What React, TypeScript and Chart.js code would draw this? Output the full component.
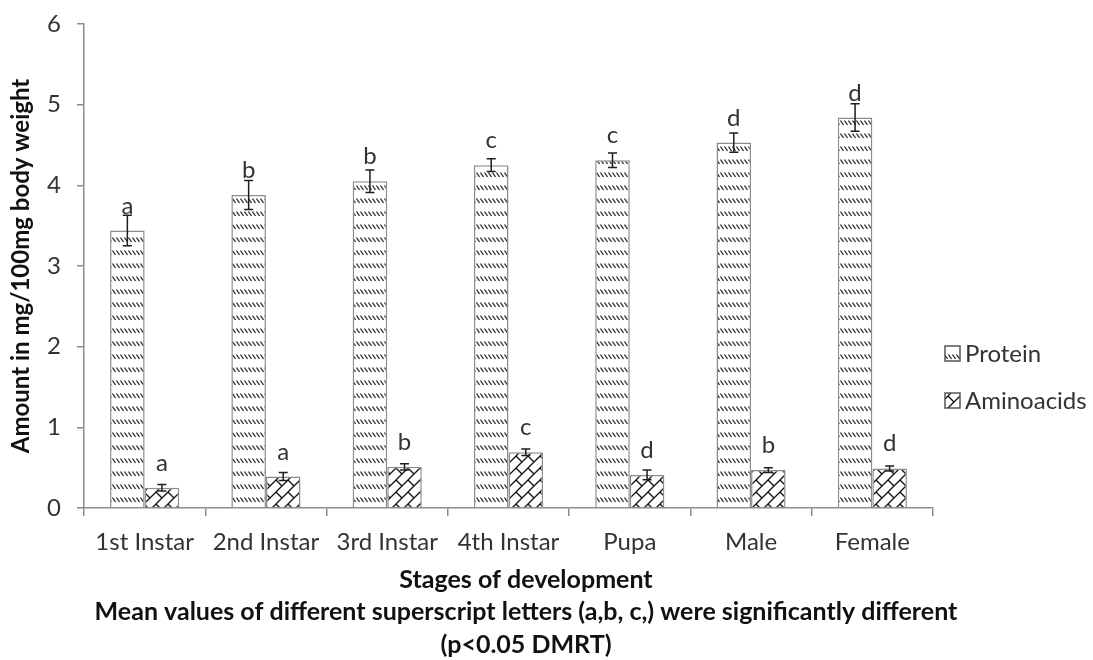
import React, { useEffect, useRef } from "react";
import { Chart, registerables } from "chart.js";

Chart.register(...registerables);

const categories = ["1st Instar", "2nd Instar", "3rd Instar", "4th Instar", "Pupa", "Male", "Female"];
const proteinValues = [3.44, 3.88, 4.05, 4.25, 4.31, 4.53, 4.84];
const proteinErrors = [0.19, 0.18, 0.14, 0.08, 0.09, 0.12, 0.17];
const proteinLetters = ["a", "b", "b", "c", "c", "d", "d"];
const aminoValues = [0.25, 0.39, 0.51, 0.69, 0.41, 0.47, 0.49];
const aminoErrors = [0.04, 0.05, 0.04, 0.04, 0.06, 0.03, 0.03];
const aminoLetters = ["a", "a", "b", "c", "d", "b", "d"];
const yTicks = [0, 1, 2, 3, 4, 5, 6];
const seriesNames = ["Protein", "Aminoacids"];
const yTitle = "Amount in mg/100mg body weight";
const xTitleLines = [
  "Stages of development",
  "Mean values of different superscript letters (a,b, c,) were significantly different",
  "(p<0.05 DMRT)",
];

const FONT = "Lato, 'Open Sans', sans-serif";
const TEXT = "#333333";
const GRAY = "#8c8c8c";

function makeProteinPattern(): CanvasPattern {
  const c = document.createElement("canvas");
  c.width = 4;
  c.height = 13;
  const g = c.getContext("2d")!;
  g.fillStyle = "#ffffff";
  g.fillRect(0, 0, 4, 13);
  g.strokeStyle = "#333333";
  g.lineWidth = 1.3;
  g.beginPath();
  g.moveTo(0.5, 3.5);
  g.lineTo(3.5, 8);
  g.stroke();
  return g.createPattern(c, "repeat")!;
}

function makeAminoPattern(): CanvasPattern {
  const s = 12;
  const c = document.createElement("canvas");
  c.width = s;
  c.height = s;
  const g = c.getContext("2d")!;
  g.fillStyle = "#ffffff";
  g.fillRect(0, 0, s, s);
  g.strokeStyle = "#151515";
  g.lineWidth = 1.3;
  for (const dx of [-s, 0, s]) {
    for (const dy of [-s, 0, s]) {
      g.beginPath();
      g.moveTo(dx, dy + s);
      g.lineTo(dx + s, dy);
      g.stroke();
      g.beginPath();
      g.moveTo(dx, dy);
      g.lineTo(dx + s / 2, dy + s / 2);
      g.stroke();
    }
  }
  return g.createPattern(c, "repeat")!;
}

export default function App() {
  const ref = useRef<HTMLCanvasElement | null>(null);

  useEffect(() => {
    document.body.style.margin = "0";
    const canvas = ref.current!;
    const protPat = makeProteinPattern();
    const aminoPat = makeAminoPattern();
    const errors = [proteinErrors, aminoErrors];
    const letters = [proteinLetters, aminoLetters];
    const values = [proteinValues, aminoValues];
    const patterns = [protPat, aminoPat];

    const overlay = {
      id: "overlay",
      afterDatasetsDraw(chart: any) {
        const ctx = chart.ctx as CanvasRenderingContext2D;
        const y = chart.scales.y;
        ctx.save();
        for (let d = 0; d < 2; d++) {
          const meta = chart.getDatasetMeta(d);
          meta.data.forEach((bar: any, j: number) => {
            const v = values[d][j];
            const e = errors[d][j];
            const x = bar.x;
            const yt = y.getPixelForValue(v + e);
            const yb = y.getPixelForValue(v - e);
            ctx.strokeStyle = "#1e1e1e";
            ctx.lineWidth = 1.5;
            ctx.beginPath();
            ctx.moveTo(x, yt);
            ctx.lineTo(x, yb);
            ctx.moveTo(x - 4.5, yt);
            ctx.lineTo(x + 4.5, yt);
            ctx.moveTo(x - 4.5, yb);
            ctx.lineTo(x + 4.5, yb);
            ctx.stroke();
            ctx.fillStyle = TEXT;
            ctx.font = `24px ${FONT}`;
            ctx.textAlign = "center";
            ctx.textBaseline = "alphabetic";
            ctx.fillText(letters[d][j], x, bar.y - 17);
          });
        }
        ctx.restore();
      },
      afterDraw(chart: any) {
        const ctx = chart.ctx as CanvasRenderingContext2D;
        ctx.save();
        const legendY = [354, 401];
        for (let i = 0; i < 2; i++) {
          ctx.fillStyle = patterns[i];
          ctx.fillRect(945, legendY[i] - 8, 15, 15);
          ctx.strokeStyle = "#555";
          ctx.lineWidth = 1.5;
          ctx.strokeRect(945, legendY[i] - 8, 15, 15);
          ctx.fillStyle = TEXT;
          ctx.font = `24px ${FONT}`;
          ctx.textAlign = "left";
          ctx.textBaseline = "middle";
          ctx.fillText(seriesNames[i], 965, legendY[i]);
        }
        ctx.fillStyle = "#111";
        ctx.font = `bold 25px ${FONT}`;
        ctx.textAlign = "center";
        ctx.textBaseline = "middle";
        const ys = [580, 612, 645];
        xTitleLines.forEach((t, i) => ctx.fillText(t, 526, ys[i]));
        ctx.restore();
      },
    };

    const chart = new Chart(canvas, {
      type: "bar",
      data: {
        labels: categories,
        datasets: [
          {
            label: seriesNames[0],
            data: proteinValues,
            backgroundColor: protPat,
            borderColor: GRAY,
            borderWidth: 1.5,
            categoryPercentage: 0.57,
            barPercentage: 1,
          },
          {
            label: seriesNames[1],
            data: aminoValues,
            backgroundColor: aminoPat,
            borderColor: GRAY,
            borderWidth: 1.5,
            categoryPercentage: 0.57,
            barPercentage: 1,
          },
        ],
      },
      options: {
        responsive: false,
        animation: false,
        layout: { padding: { top: 24, right: 160, left: 0, bottom: 0 } },
        plugins: { legend: { display: false }, tooltip: { enabled: false } },
        scales: {
          x: {
            grid: { display: true, drawOnChartArea: false, offset: true, tickLength: 8, color: GRAY, lineWidth: 1.5 },
            border: { color: GRAY, width: 1.5 },
            ticks: { font: { family: FONT, size: 24 }, color: TEXT, padding: 12, maxRotation: 0, autoSkip: false },
            afterFit: (s: any) => {
              s.height = 152;
            },
          },
          y: {
            min: 0,
            max: 6,
            afterBuildTicks: (s: any) => {
              s.ticks = yTicks.map((v) => ({ value: v }));
            },
            ticks: { font: { family: FONT, size: 24 }, color: TEXT, padding: 16 },
            grid: { drawOnChartArea: false, tickLength: 7, color: GRAY, lineWidth: 1.5 },
            border: { color: GRAY, width: 1.5 },
            title: {
              display: true,
              text: yTitle,
              font: { family: FONT, size: 24, weight: "bold" },
              color: "#111",
              padding: { top: 7, bottom: 0 },
            },
            afterFit: (s: any) => {
              s.width = 84;
              s.paddingTop = 0;
              s.paddingBottom = 0;
            },
          },
        },
      },
      plugins: [overlay],
    } as any);

    return () => chart.destroy();
  }, []);

  return <canvas ref={ref} width={1093} height={660} style={{ display: "block" }} />;
}
